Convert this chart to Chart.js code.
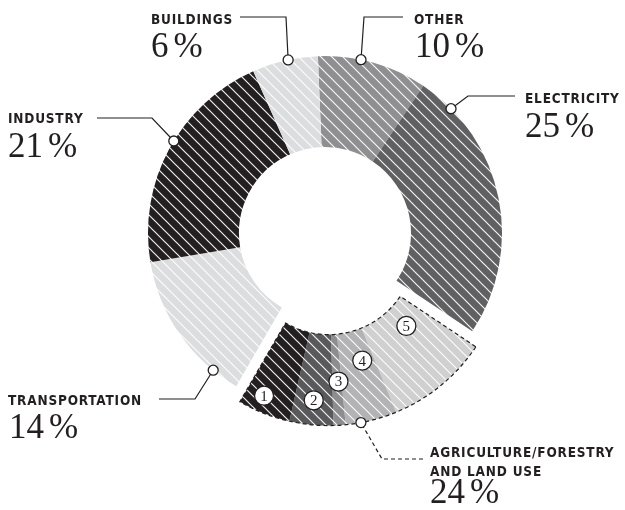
<!DOCTYPE html>
<html>
<head>
<meta charset="utf-8">
<script src="https://cdn.jsdelivr.net/npm/chart.js@4.4.1/dist/chart.umd.min.js"></script>
<style>
  html, body { margin: 0; padding: 0; background: #fff; }
  #wrap { width: 625px; height: 510px; }
</style>
</head>
<body>
<div id="wrap"><canvas id="emissions"></canvas></div>
<script>
// main sectors, clockwise from the top
const categories = ['OTHER', 'ELECTRICITY', 'AGRICULTURE/FORESTRY\nAND LAND USE', 'TRANSPORTATION', 'INDUSTRY', 'BUILDINGS'];
const percents = [10, 25, 24, 14, 21, 6];

// agriculture split into numbered parts (5 -> 1 clockwise)
const agriParts = ['5', '4', '3', '2', '1'];
const agriValues = [9.4, 4.7, 1.1, 4.0, 4.8];

const ink = '#231f20';
const sectorColors = ['#8f8f91', '#606062', null, '#dcdddf', ink, '#dcdddf'];
const agriColors = ['#d0d0d1', '#b3b3b5', '#8d8d8f', '#59595b', ink];

// slices in drawing order
const sliceValues = [percents[0], percents[1], ...agriValues, percents[3], percents[4], percents[5]];
const sliceColors = [sectorColors[0], sectorColors[1], ...agriColors, sectorColors[3], sectorColors[4], sectorColors[5]];
const agriFirst = 2, agriLast = 2 + agriValues.length - 1;

const canvas = document.getElementById('emissions');
const ctx0 = canvas.getContext('2d');

function hatch(color) {
  const s = 11;
  const c = document.createElement('canvas');
  c.width = s; c.height = s;
  const g = c.getContext('2d');
  g.fillStyle = color;
  g.fillRect(0, 0, s, s);
  g.strokeStyle = 'rgba(255,255,255,0.92)';
  g.lineWidth = 1.2;
  g.beginPath();
  g.moveTo(-1, -1); g.lineTo(s + 1, s + 1);
  g.moveTo(-1, s - 1); g.lineTo(1, s + 1);
  g.moveTo(s - 1, -1); g.lineTo(s + 1, 1);
  g.stroke();
  return ctx0.createPattern(c, 'repeat');
}

// callout layout: which slices, where on the arc, text position, leader path
const callouts = [
  { from: 0, to: 0, f: 0.39, name: [414, 23.5], pct: [415, 57], path: [[403, 17], [364, 17]] },
  { from: 1, to: 1, f: 0.13, name: [525, 103], pct: [525, 137], path: [[515, 96], [468, 96]] },
  { from: agriFirst, to: agriLast, f: 0.53, name: [430, 457], pct: [430, 503], path: [[423, 459], [382, 459]], dashed: true },
  { from: 7, to: 7, f: 0.18, name: [8, 405], pct: [9, 438], path: [[159, 399], [195, 399]] },
  { from: 8, to: 8, f: 0.54, name: [8, 123], pct: [8, 157], path: [[97, 118], [152, 118]] },
  { from: 9, to: 9, f: 0.55, name: [151, 23.5], pct: [151, 57], path: [[240, 17], [286, 17]] }
];
// numbered badges inside the agriculture parts: [angle fraction, ring fraction]
const badgePos = [[0.33, 0.26], [0.34, 0.34], [0.33, 0.52], [0.5, 0.73], [0.63, 0.82]];
const agriShift = 16;

function pointOn(arc, angle, r) {
  return [arc.x + Math.cos(angle) * r, arc.y + Math.sin(angle) * r];
}

const calloutPlugin = {
  id: 'callouts',
  afterDatasetsUpdate(chart) {
    const arcs = chart.getDatasetMeta(0).data;
    const mid = (arcs[agriFirst].startAngle + arcs[agriLast].endAngle) / 2;
    for (let i = agriFirst; i <= agriLast; i++) {
      arcs[i].x += Math.cos(mid) * agriShift;
      arcs[i].y += Math.sin(mid) * agriShift;
    }
  },
  afterDatasetsDraw(chart) {
    const ctx = chart.ctx;
    const arcs = chart.getDatasetMeta(0).data;
    const a0 = arcs[agriFirst], a1 = arcs[agriLast];

    ctx.save();
    // dashed outline round the agriculture group
    ctx.beginPath();
    ctx.arc(a0.x, a0.y, a0.outerRadius, a0.startAngle, a1.endAngle);
    ctx.arc(a0.x, a0.y, a0.innerRadius, a1.endAngle, a0.startAngle, true);
    ctx.closePath();
    ctx.setLineDash([4, 3]);
    ctx.lineWidth = 1.2;
    ctx.strokeStyle = ink;
    ctx.stroke();
    ctx.setLineDash([]);

    // numbered badges
    agriParts.forEach((lbl, k) => {
      const arc = arcs[agriFirst + k];
      const ang = arc.startAngle + badgePos[k][0] * (arc.endAngle - arc.startAngle);
      const r = arc.innerRadius + badgePos[k][1] * (arc.outerRadius - arc.innerRadius);
      const [x, y] = pointOn(arc, ang, r);
      ctx.beginPath();
      ctx.arc(x, y, 9.5, 0, Math.PI * 2);
      ctx.fillStyle = '#fff';
      ctx.fill();
      ctx.lineWidth = 1.3;
      ctx.strokeStyle = ink;
      ctx.stroke();
      ctx.fillStyle = ink;
      ctx.font = '15px "Liberation Serif"';
      ctx.textAlign = 'center';
      ctx.textBaseline = 'middle';
      ctx.fillText(lbl, x, y + 1);
    });

    // callouts
    callouts.forEach((c, i) => {
      const s = arcs[c.from], e = arcs[c.to];
      const ang = s.startAngle + c.f * (e.endAngle - s.startAngle);
      const [px, py] = pointOn(s, ang, s.outerRadius);

      ctx.beginPath();
      ctx.moveTo(c.path[0][0], c.path[0][1]);
      for (let k = 1; k < c.path.length; k++) ctx.lineTo(c.path[k][0], c.path[k][1]);
      ctx.lineTo(px, py);
      ctx.setLineDash(c.dashed ? [4, 3] : []);
      ctx.lineWidth = 1.2;
      ctx.strokeStyle = ink;
      ctx.stroke();
      ctx.setLineDash([]);

      ctx.beginPath();
      ctx.arc(px, py, 5, 0, Math.PI * 2);
      ctx.fillStyle = '#fff';
      ctx.fill();
      ctx.lineWidth = 1.3;
      ctx.stroke();

      ctx.fillStyle = ink;
      ctx.textAlign = 'left';
      ctx.textBaseline = 'alphabetic';
      ctx.font = 'bold 13.5px "DejaVu Sans Condensed", "DejaVu Sans"';
      ctx.letterSpacing = '0.8px';
      categories[i].split('\n').forEach((line, k) => {
        ctx.fillText(line, c.name[0], c.name[1] + k * 18.5);
      });
      ctx.letterSpacing = '0px';

      ctx.font = '35px "Liberation Serif"';
      const num = String(percents[i]);
      ctx.fillText(num, c.pct[0], c.pct[1]);
      const w = ctx.measureText(num).width;
      ctx.fillText('%', c.pct[0] + w + 5, c.pct[1]);
    });
    ctx.restore();
  }
};

new Chart(canvas, {
  type: 'doughnut',
  data: {
    labels: sliceValues.map((v, i) => 'slice ' + i),
    datasets: [{
      data: sliceValues,
      backgroundColor: sliceColors.map(hatch),
      borderWidth: 0
    }]
  },
  options: {
    responsive: true,
    maintainAspectRatio: false,
    animation: false,
    rotation: -2.3,
    radius: 177,
    cutout: '48.6%',
    layout: { padding: { left: 25, right: 0, top: 0, bottom: 44 } },
    plugins: {
      legend: { display: false },
      tooltip: { enabled: false }
    }
  },
  plugins: [calloutPlugin]
});
</script>
</body>
</html>
